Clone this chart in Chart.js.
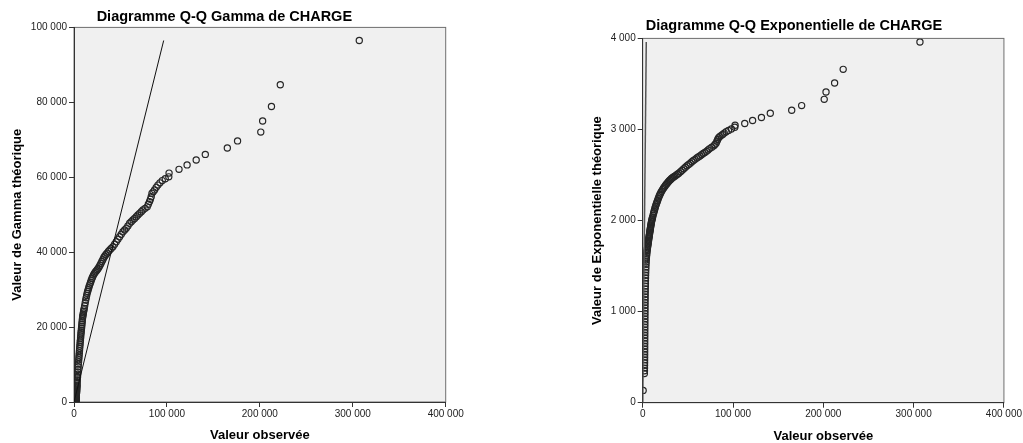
<!DOCTYPE html>
<html>
<head>
<meta charset="utf-8">
<script src="https://cdn.jsdelivr.net/npm/chart.js@4.4.1/dist/chart.umd.min.js"></script>
<style>
    html, body { margin: 0; padding: 0; background: #fff; overflow: hidden; }
    #gammaWrap { position: absolute; left: 0; top: 0; width: 470px; height: 443px; }
    #expoWrap { position: absolute; left: 575px; top: 0; width: 448px; height: 443px; }
</style>
</head>
<body>
<div id="gammaWrap"><canvas id="gammaChart"></canvas></div>
<div id="expoWrap"><canvas id="expoChart"></canvas></div>
<script>
const observed = [
    500,
    1850, 1930, 2000, 2040, 2080, 2110, 2140, 2160, 2180, 2200, 2220, 2240, 2260, 2280, 2300,
    2320, 2350, 2370, 2400, 2420, 2450, 2480, 2510, 2540, 2570, 2600, 2640, 2680, 2720, 2760,
    2810, 2860, 2920, 2980, 3050, 3120, 3200, 3300, 3420, 3550, 3700,
    3800, 3950, 4100, 4300, 4500, 4700, 4900, 5100, 5300, 5500, 5700, 5900, 6100, 6300, 6500,
    6700, 6900, 7100, 7270, 7500, 7700, 7900, 8100, 8300, 8500, 8700, 8900, 9100, 9350, 9550,
    9800, 10100, 10400, 10700,
    11000, 11500, 12100, 12600, 13100, 13600, 14100, 14700, 15300, 15900, 16500, 17200, 17900, 18600, 19300,
    20000, 21000, 22000, 23000, 24000, 25000, 26000, 27000, 28000, 29000, 30000, 31000, 32000,
    33000, 34200, 35500, 37000, 38500, 40000, 41900, 43700, 45500, 47300, 49100, 50900, 52700,
    54500, 56200, 58000, 59900, 61600, 63400, 65200, 67000, 68800, 70600, 72400, 74200, 76500,
    78800, 80000, 81300, 82200, 83100, 83900, 85200, 86700, 88500, 90300, 92500, 95000, 98200,
    102000, 102300, 113000, 121700, 131500, 141300, 165000, 176000, 201000, 203000, 212500, 222000, 307000
];
const gammaQ = [
    0,
    80, 180, 300, 400, 490, 570, 650, 720, 790, 860, 930, 1000, 1070, 1140, 1210,
    1280, 1360, 1430, 1520, 1600, 1700, 1800, 1900, 2000, 2100, 2200, 2350, 2500, 2650, 2800,
    3000, 3200, 3450, 3700, 4000, 4200, 4500, 4900, 5400, 5900, 6500,
    6800, 7400, 8000, 8700, 9400, 10100, 10700, 11300, 11900, 12500, 13100, 13700, 14300, 14900, 15400,
    16000, 16500, 17100, 17600, 18200, 18700, 19200, 19700, 20200, 20700, 21200, 21700, 22200, 22700, 23000,
    23400, 23800, 24200, 24600,
    25000, 25700, 26500, 27200, 27800, 28400, 29000, 29500, 30000, 30500, 31000, 31500, 32000, 32500, 33000,
    33400, 33900, 34300, 34700, 35000, 35300, 35650, 36050, 36500, 37000, 37500, 38000, 38500,
    38900, 39300, 39700, 40200, 40600, 41000, 41450, 42100, 42780, 43450, 44120, 44800, 45450,
    45900, 46360, 47000, 47700, 48150, 48600, 49000, 49460, 49900, 50360, 50800, 51250, 51700,
    52100, 52800, 53500, 54100, 54800, 55700, 56100, 56600, 57300, 57900, 58500, 59100, 59600,
    60100, 61100, 62100, 63300, 64600, 66100, 67800, 69700, 72050, 75000, 78900, 84700, 96500
];
const expoQ = [
    135,
    320, 350, 380, 410, 440, 470, 500, 530, 560, 590, 620, 650, 680, 710, 740,
    770, 800, 830, 860, 890, 920, 950, 980, 1010, 1040, 1070, 1100, 1130, 1160, 1190,
    1220, 1250, 1280, 1310, 1340, 1370, 1400, 1430, 1460, 1490, 1520,
    1545, 1570, 1592, 1614, 1634, 1652, 1670, 1685, 1700, 1714, 1728, 1742, 1756, 1770, 1784,
    1797, 1810, 1822, 1835, 1848, 1862, 1875, 1888, 1900, 1912, 1925, 1938, 1950, 1963, 1975,
    1988, 2002, 2015, 2027,
    2038, 2058, 2080, 2100, 2117, 2135, 2152, 2170, 2188, 2205, 2221, 2240, 2258, 2275, 2290,
    2305, 2322, 2340, 2355, 2369, 2382, 2396, 2408, 2420, 2432, 2442, 2452, 2462,
    2470, 2478, 2487, 2497, 2508, 2520, 2536, 2552, 2568, 2585, 2602, 2616, 2630,
    2645, 2659, 2672, 2686, 2698, 2710, 2722, 2736, 2748, 2760, 2775, 2790, 2805,
    2820, 2835, 2850, 2870, 2890, 2908, 2920, 2933, 2945, 2960, 2975, 2990, 3005,
    3025, 3047, 3065, 3098, 3131, 3178, 3211, 3262, 3331, 3412, 3510, 3660, 3960
];

// reference lines y = x, from the lowest to the highest theoretical value
const gammaLine = [0, 96500];
const expoLine = [0, 3960];

const xTickValues = [0, 100000, 200000, 300000, 400000];
const gammaTickValues = [0, 20000, 40000, 60000, 80000, 100000];
const expoTickValues = [0, 1000, 2000, 3000, 4000];

Chart.defaults.font.family = '"Liberation Sans", Arial, sans-serif';
Chart.defaults.color = '#222';

function fmt(v) {
    return String(v).replace(/\B(?=(\d{3})+(?!\d))/g, ' ');
}

const plotFrame = {
    id: 'plotFrame',
    beforeDraw(chart) {
        const a = chart.chartArea;
        const c = chart.ctx;
        c.save();
        c.fillStyle = '#f0f0f0';
        c.fillRect(a.left, a.top, a.right - a.left, a.bottom - a.top);
        c.strokeStyle = '#6e6e6e';
        c.lineWidth = 1;
        c.strokeRect(a.left, a.top, a.right - a.left, a.bottom - a.top);
        c.restore();
    }
};

function makeChart(canvasId, opts) {
    const points = observed.map((x, i) => ({ x: x, y: opts.values[i] }));
    const line = opts.line.map(v => ({ x: v, y: v }));

    return new Chart(document.getElementById(canvasId), {
        type: 'scatter',
        data: {
            datasets: [
                {
                    data: line,
                    showLine: true,
                    borderColor: opts.lineColor,
                    borderWidth: opts.lineWidth,
                    pointRadius: 0
                },
                {
                    data: points,
                    pointStyle: 'circle',
                    pointRadius: 3.1,
                    borderWidth: 1.2,
                    borderColor: '#262626',
                    backgroundColor: 'rgba(0,0,0,0)'
                }
            ]
        },
        options: {
            responsive: true,
            maintainAspectRatio: false,
            animation: false,
            layout: { padding: { left: opts.padLeft, right: opts.padRight, top: 0, bottom: 0 } },
            plugins: {
                legend: { display: false },
                tooltip: { enabled: false },
                title: {
                    display: true,
                    text: opts.title,
                    color: '#000',
                    font: { size: 14.5, weight: 'bold' },
                    padding: opts.titlePad
                }
            },
            scales: {
                x: {
                    type: 'linear',
                    min: 0,
                    max: 400000,
                    afterBuildTicks: s => { s.ticks = xTickValues.map(v => ({ value: v })); },
                    afterFit: s => { s.height = opts.xHeight; },
                    ticks: { callback: v => fmt(v), font: { size: 10 }, padding: 1, maxRotation: 0, autoSkip: false },
                    grid: { drawOnChartArea: false, drawTicks: true, tickLength: 5, color: '#333' },
                    border: { color: '#333' },
                    title: {
                        display: true,
                        text: 'Valeur observée',
                        color: '#000',
                        font: { size: 13, weight: 'bold', lineHeight: 1 },
                        padding: { top: 0, bottom: opts.xTitlePad }
                    }
                },
                y: {
                    type: 'linear',
                    min: 0,
                    max: opts.yMax,
                    afterBuildTicks: s => { s.ticks = opts.yTicks.map(v => ({ value: v })); },
                    afterFit: s => { s.width = opts.yWidth; },
                    ticks: { callback: v => fmt(v), font: { size: 10 }, padding: 2, autoSkip: false },
                    grid: { drawOnChartArea: false, drawTicks: true, tickLength: 5, color: '#333' },
                    border: { color: '#333' },
                    title: {
                        display: true,
                        text: opts.yTitle,
                        color: '#000',
                        font: { size: 13, weight: 'bold', lineHeight: 1 },
                        padding: { top: opts.yTitlePad, bottom: 0 }
                    }
                }
            }
        },
        plugins: [plotFrame]
    });
}

makeChart('gammaChart', {
    values: gammaQ,
    line: gammaLine,
    lineColor: '#111',
    lineWidth: 1,
    title: 'Diagramme Q-Q Gamma de CHARGE',
    titlePad: { top: 8, bottom: 2 },
    yTitle: 'Valeur de Gamma théorique',
    yMax: 100000,
    yTicks: gammaTickValues,
    padLeft: 3,
    padRight: 24.3,
    yWidth: 71,
    xHeight: 41,
    xTitlePad: 1.5,
    yTitlePad: 7.5
});

makeChart('expoChart', {
    values: expoQ,
    line: expoLine,
    lineColor: '#555',
    lineWidth: 1.5,
    title: 'Diagramme Q-Q Exponentielle de CHARGE',
    titlePad: { top: 17, bottom: 4 },
    yTitle: 'Valeur de Exponentielle théorique',
    yMax: 4000,
    yTicks: expoTickValues,
    padLeft: 7,
    padRight: 17,
    yWidth: 60.7,
    xHeight: 40.3,
    xTitlePad: 0,
    yTitlePad: 8.5
});
</script>
</body>
</html>
